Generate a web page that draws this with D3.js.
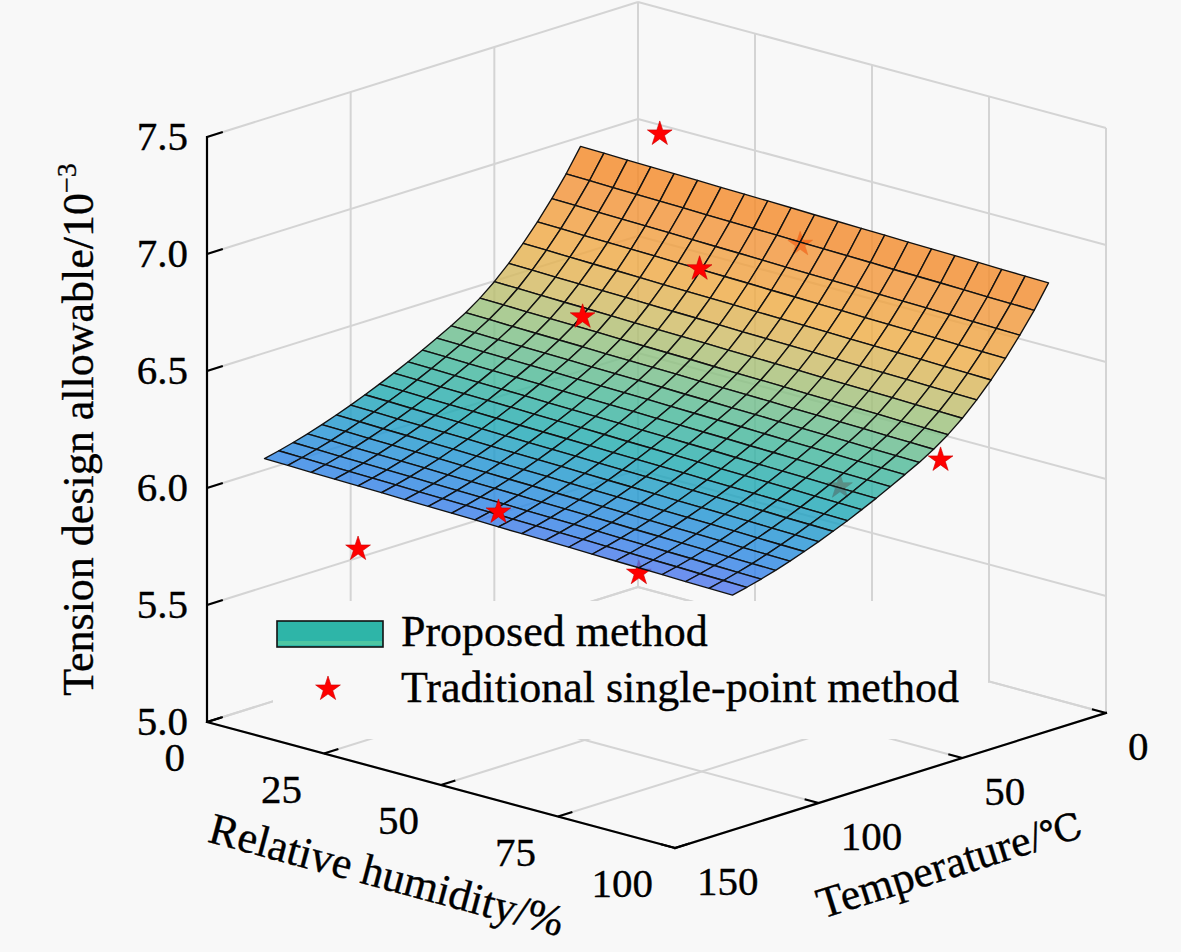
<!DOCTYPE html>
<html><head><meta charset="utf-8">
<script src="https://cdn.jsdelivr.net/npm/d3@7"></script>
<style>
html,body{margin:0;padding:0;background:#f8f8f8;}
svg{display:block;}
text{font-family:"Liberation Serif","Times New Roman","DejaVu Serif",serif;fill:#000;stroke:#000;stroke-width:0.35px;}
</style>
</head><body>
<svg id="chart" width="1181" height="952"></svg>
<script>
// ---------------- data ----------------
const humidity = [0,5,10,15,20,25,30,35,40,45,50,55,60,65,70,75,80,85,90,95,100];
const temperature = [20,25,30,35,40,45,50,55,60,65,70,75,80,85,90,95,100,105,110,115,120,125,130];
// rows = temperature, columns = relative humidity (tension design allowable, 10^-3)
const allowable = [
[6.960,6.958,6.955,6.953,6.951,6.949,6.946,6.944,6.942,6.940,6.937,6.935,6.933,6.931,6.928,6.926,6.924,6.922,6.919,6.917,6.915],
[6.862,6.860,6.857,6.855,6.853,6.851,6.848,6.846,6.844,6.842,6.839,6.837,6.835,6.833,6.830,6.828,6.826,6.824,6.821,6.819,6.817],
[6.775,6.773,6.770,6.768,6.766,6.764,6.761,6.759,6.757,6.755,6.752,6.750,6.748,6.746,6.743,6.741,6.739,6.737,6.734,6.732,6.730],
[6.695,6.693,6.690,6.688,6.686,6.684,6.681,6.679,6.677,6.675,6.672,6.670,6.668,6.666,6.663,6.661,6.659,6.657,6.654,6.652,6.650],
[6.622,6.620,6.617,6.615,6.613,6.611,6.608,6.606,6.604,6.602,6.599,6.597,6.595,6.593,6.590,6.588,6.586,6.584,6.581,6.579,6.577],
[6.556,6.554,6.551,6.549,6.547,6.545,6.542,6.540,6.538,6.536,6.533,6.531,6.529,6.527,6.524,6.522,6.520,6.518,6.515,6.513,6.511],
[6.497,6.495,6.492,6.490,6.488,6.486,6.483,6.481,6.479,6.477,6.474,6.472,6.470,6.468,6.465,6.463,6.461,6.459,6.456,6.454,6.452],
[6.446,6.444,6.441,6.439,6.437,6.435,6.432,6.430,6.428,6.426,6.423,6.421,6.419,6.417,6.414,6.412,6.410,6.408,6.405,6.403,6.401],
[6.403,6.401,6.398,6.396,6.394,6.392,6.389,6.387,6.385,6.383,6.380,6.378,6.376,6.374,6.371,6.369,6.367,6.365,6.362,6.360,6.358],
[6.366,6.364,6.361,6.359,6.357,6.355,6.352,6.350,6.348,6.346,6.343,6.341,6.339,6.337,6.334,6.332,6.330,6.328,6.325,6.323,6.321],
[6.333,6.331,6.328,6.326,6.324,6.322,6.319,6.317,6.315,6.313,6.310,6.308,6.306,6.304,6.301,6.299,6.297,6.295,6.292,6.290,6.288],
[6.301,6.299,6.296,6.294,6.292,6.290,6.287,6.285,6.283,6.281,6.278,6.276,6.274,6.272,6.269,6.267,6.265,6.263,6.260,6.258,6.256],
[6.270,6.268,6.265,6.263,6.261,6.259,6.256,6.254,6.252,6.250,6.247,6.245,6.243,6.241,6.238,6.236,6.234,6.232,6.229,6.227,6.225],
[6.241,6.239,6.236,6.234,6.232,6.230,6.227,6.225,6.223,6.221,6.218,6.216,6.214,6.212,6.209,6.207,6.205,6.203,6.200,6.198,6.196],
[6.213,6.211,6.208,6.206,6.204,6.202,6.199,6.197,6.195,6.193,6.190,6.188,6.186,6.184,6.181,6.179,6.177,6.175,6.172,6.170,6.168],
[6.187,6.185,6.182,6.180,6.178,6.176,6.173,6.171,6.169,6.167,6.164,6.162,6.160,6.158,6.155,6.153,6.151,6.149,6.146,6.144,6.142],
[6.162,6.160,6.157,6.155,6.153,6.151,6.148,6.146,6.144,6.142,6.139,6.137,6.135,6.133,6.130,6.128,6.126,6.124,6.121,6.119,6.117],
[6.139,6.137,6.134,6.132,6.130,6.128,6.125,6.123,6.121,6.119,6.116,6.114,6.112,6.110,6.107,6.105,6.103,6.101,6.098,6.096,6.094],
[6.117,6.115,6.112,6.110,6.108,6.106,6.103,6.101,6.099,6.097,6.094,6.092,6.090,6.088,6.085,6.083,6.081,6.079,6.076,6.074,6.072],
[6.097,6.095,6.092,6.090,6.088,6.086,6.083,6.081,6.079,6.077,6.074,6.072,6.070,6.068,6.065,6.063,6.061,6.059,6.056,6.054,6.052],
[6.079,6.077,6.074,6.072,6.070,6.068,6.065,6.063,6.061,6.059,6.056,6.054,6.052,6.050,6.047,6.045,6.043,6.041,6.038,6.036,6.034],
[6.063,6.061,6.058,6.056,6.054,6.052,6.049,6.047,6.045,6.043,6.040,6.038,6.036,6.034,6.031,6.029,6.027,6.025,6.022,6.020,6.018],
[6.049,6.047,6.044,6.042,6.040,6.038,6.035,6.033,6.031,6.029,6.026,6.024,6.022,6.020,6.017,6.015,6.013,6.011,6.008,6.006,6.004]
];
// traditional single-point method results
const pointHumidity    = [20, 50, 80, 25, 50, 80, 20, 50, 80];
const pointTemperature = [25, 25, 25, 60, 60, 60, 130, 130, 130];
const pointValue       = [7.14, 6.83, 6.07, 6.52, 6.86, 6.09, 5.77, 6.09, 5.99];

const humidityTicks = [0, 25, 50, 75, 100];
const temperatureTicks = [0, 50, 100, 150];
const valueTicks = [5.0, 5.5, 6.0, 6.5, 7.0, 7.5];
const valueTickLabels = ["5.0", "5.5", "6.0", "6.5", "7.0", "7.5"];
const legendLabels = ["Proposed method", "Traditional single-point method"];
const axisTitles = {rh: "Relative humidity/%", t: "Temperature/", tUnit: "\u2103", z: "Tension design allowable/10", zExp: "\u22123"};

// ---------------- projection (oblique 3-D view built from linear scales) ----------------
const rhX = d3.scaleLinear().domain([0, 100]).range([0, 468]);
const rhY = d3.scaleLinear().domain([0, 100]).range([0, 126]);
const tX  = d3.scaleLinear().domain([0, 150]).range([0, -431]);
const tY  = d3.scaleLinear().domain([0, 150]).range([0, 135]);
const zY  = d3.scaleLinear().domain([5, 7.5]).range([0, -585]);
const ORIGIN = [638, 587];
function proj(rh, t, z) {
  return [ORIGIN[0] + rhX(rh) + tX(t), ORIGIN[1] + rhY(rh) + tY(t) + zY(z)];
}
const RH0 = 0, RH1 = 100, T0 = 0, T1 = 150, Z0 = 5, Z1 = 7.5;

const svg = d3.select("#chart");
svg.append("rect").attr("width", 1181).attr("height", 952).attr("fill", "#f8f8f8");

function seg(g, a, b) {
  g.append("line").attr("x1", a[0]).attr("y1", a[1]).attr("x2", b[0]).attr("y2", b[1]);
}

// ---------------- grid (back walls + floor) ----------------
const grid = svg.append("g").attr("stroke", "#d4d4d4").attr("stroke-width", 2).attr("fill", "none");
temperatureTicks.forEach(t => seg(grid, proj(RH0, t, Z0), proj(RH0, t, Z1)));
valueTicks.forEach(z => seg(grid, proj(RH0, T0, z), proj(RH0, T1, z)));
humidityTicks.forEach(rh => seg(grid, proj(rh, T0, Z0), proj(rh, T0, Z1)));
valueTicks.forEach(z => seg(grid, proj(RH0, T0, z), proj(RH1, T0, z)));
humidityTicks.forEach(rh => seg(grid, proj(rh, T0, Z0), proj(rh, T1, Z0)));
temperatureTicks.forEach(t => seg(grid, proj(RH0, t, Z0), proj(RH1, t, Z0)));

// legend background (hides floor grid behind it)
svg.append("rect").attr("x", 273).attr("y", 601).attr("width", 715).attr("height", 138).attr("fill", "#f8f8f8");

// ---------------- colour ----------------
const flat = allowable.flat();
const [zmin, zmax] = d3.extent(flat);
const stops = [0, 0.05, 0.12, 0.20, 0.30, 0.42, 0.52, 0.65, 0.85, 1.0];
const stopColors = ["#5272EE","#2F84E6","#2096D2","#1EAAB2","#45B89A","#8EC180","#CDBC66","#EFAC45","#F29236","#F5821C"];
const color = d3.scaleLinear().domain(stops.map(s => zmin + s * (zmax - zmin))).range(stopColors).interpolate(d3.interpolateRgb);

// surface value lookup (to decide which markers lie beneath the surface)
function surfaceAt(rh, t) {
  const i = Math.min(Math.max(d3.bisectRight(humidity, rh) - 1, 0), humidity.length - 2);
  const j = Math.min(Math.max(d3.bisectRight(temperature, t) - 1, 0), temperature.length - 2);
  const u = (rh - humidity[i]) / (humidity[i + 1] - humidity[i]);
  const v = (Math.min(Math.max(t, temperature[0]), temperature[temperature.length - 1]) - temperature[j]) / (temperature[j + 1] - temperature[j]);
  return (1 - u) * (1 - v) * allowable[j][i] + u * (1 - v) * allowable[j][i + 1] + (1 - u) * v * allowable[j + 1][i] + u * v * allowable[j + 1][i + 1];
}

const points = pointHumidity.map((rh, k) => ({rh, t: pointTemperature[k], v: pointValue[k]}));
points.forEach(p => { p.behind = p.v < surfaceAt(p.rh, p.t); p.xy = proj(p.rh, p.t, p.v); });

const star = d3.symbol().type(d3.symbolStar).size(190);
function drawStars(list) {
  svg.append("g").selectAll("path").data(list).join("path")
    .attr("d", star)
    .attr("transform", d => `translate(${d.xy[0]},${d.xy[1]})`)
    .attr("fill", "#ff0000").attr("stroke", "#c80000").attr("stroke-width", 0.6);
}
drawStars(points.filter(p => p.behind));

// ---------------- surface ----------------
const cells = [];
for (let j = 0; j < temperature.length - 1; j++) {
  for (let i = 0; i < humidity.length - 1; i++) {
    const idx = [[i, j], [i + 1, j], [i + 1, j + 1], [i, j + 1]];
    const pts = idx.map(([a, b]) => proj(humidity[a], temperature[b], allowable[b][a]));
    const zm = d3.mean(idx, ([a, b]) => allowable[b][a]);
    const depth = rhY((humidity[i] + humidity[i + 1]) / 2) + tY((temperature[j] + temperature[j + 1]) / 2);
    cells.push({pts, zm, depth});
  }
}
cells.sort((a, b) => a.depth - b.depth);
const lineGen = d3.line();
svg.append("g").selectAll("path").data(cells).join("path")
  .attr("d", d => lineGen(d.pts) + "Z")
  .attr("fill", d => color(d.zm))
  .attr("fill-opacity", 0.8)
  .attr("stroke", "#121212").attr("stroke-width", 1.35).attr("stroke-linejoin", "round");

drawStars(points.filter(p => !p.behind));

// ---------------- axes ----------------
const ax = svg.append("g").attr("stroke", "#000").attr("stroke-width", 2.2).attr("fill", "none").attr("stroke-linecap", "square");
seg(ax, proj(RH0, T1, Z0), proj(RH0, T1, Z1));
seg(ax, proj(RH0, T1, Z0), proj(RH1, T1, Z0));
seg(ax, proj(RH1, T1, Z0), proj(RH1, T0, Z0));
const tk = svg.append("g").attr("stroke", "#000").attr("stroke-width", 2).attr("fill", "none");
valueTicks.forEach(z => seg(tk, proj(RH0, T1, z), proj(RH0, T1 - 5.5, z)));
humidityTicks.forEach(rh => seg(tk, proj(rh, T1, Z0), proj(rh, T1 - 5, Z0)));
temperatureTicks.forEach(t => seg(tk, proj(RH1, t, Z0), proj(RH1 - 3, t, Z0)));

const TICK_FS = 41, LABEL_FS = 44;
const lab = svg.append("g").attr("font-size", TICK_FS);
valueTicks.forEach((z, k) => {
  const p = proj(RH0, T1, z);
  lab.append("text").attr("x", p[0] - 19).attr("y", p[1] + 13).attr("text-anchor", "end").text(valueTickLabels[k]);
});
humidityTicks.forEach(rh => {
  const p = proj(rh, T1, Z0);
  lab.append("text").attr("x", p[0] - 22).attr("y", p[1] + 49).attr("text-anchor", "end").text(rh);
});
temperatureTicks.forEach(t => {
  const p = proj(RH1, t, Z0);
  lab.append("text").attr("x", p[0] + 22).attr("y", p[1] + 47).attr("text-anchor", "start").text(t);
});

// axis titles
const angRH = Math.atan2(rhY(100), rhX(100)) * 180 / Math.PI;
const angT = Math.atan2(-tY(150), -tX(150)) * 180 / Math.PI;
const mRH = proj(50, T1, Z0);
svg.append("text").attr("font-size", LABEL_FS).attr("text-anchor", "middle")
  .attr("transform", `translate(${mRH[0] - 58},${mRH[1] + 104}) rotate(${angRH})`)
  .text(axisTitles.rh);
const mT = proj(RH1, 75, Z0);
const tt = svg.append("text").attr("font-size", LABEL_FS).attr("text-anchor", "middle")
  .attr("transform", `translate(${mT[0] + 63},${mT[1] + 97}) rotate(${angT})`);
tt.append("tspan").text(axisTitles.t);
tt.append("tspan").attr("font-size", 37).text(axisTitles.tUnit);
const mZ = proj(RH0, T1, (Z0 + Z1) / 2);
const zt = svg.append("text").attr("font-size", 44).attr("text-anchor", "middle")
  .attr("transform", `translate(93,${mZ[1]}) rotate(-90)`);
zt.append("tspan").text(axisTitles.z);
zt.append("tspan").attr("font-size", 28).attr("dy", -17).text(axisTitles.zExp);

// ---------------- legend ----------------
const lg = svg.append("g");
lg.append("rect").attr("x", 277).attr("y", 621).attr("width", 106).attr("height", 26)
  .attr("fill", "#2eb5a8").attr("stroke", "#111").attr("stroke-width", 1.6);
lg.append("rect").attr("x", 278).attr("y", 641).attr("width", 104).attr("height", 4)
  .attr("fill", "#5ccf9f").attr("opacity", 0.7);
lg.append("path").attr("d", star).attr("transform", "translate(328,689)")
  .attr("fill", "#ff0000").attr("stroke", "#c80000").attr("stroke-width", 0.6);
lg.append("text").attr("x", 401).attr("y", 646).attr("font-size", LABEL_FS).text(legendLabels[0]);
lg.append("text").attr("x", 401).attr("y", 702).attr("font-size", LABEL_FS).text(legendLabels[1]);
</script>
</body></html>
